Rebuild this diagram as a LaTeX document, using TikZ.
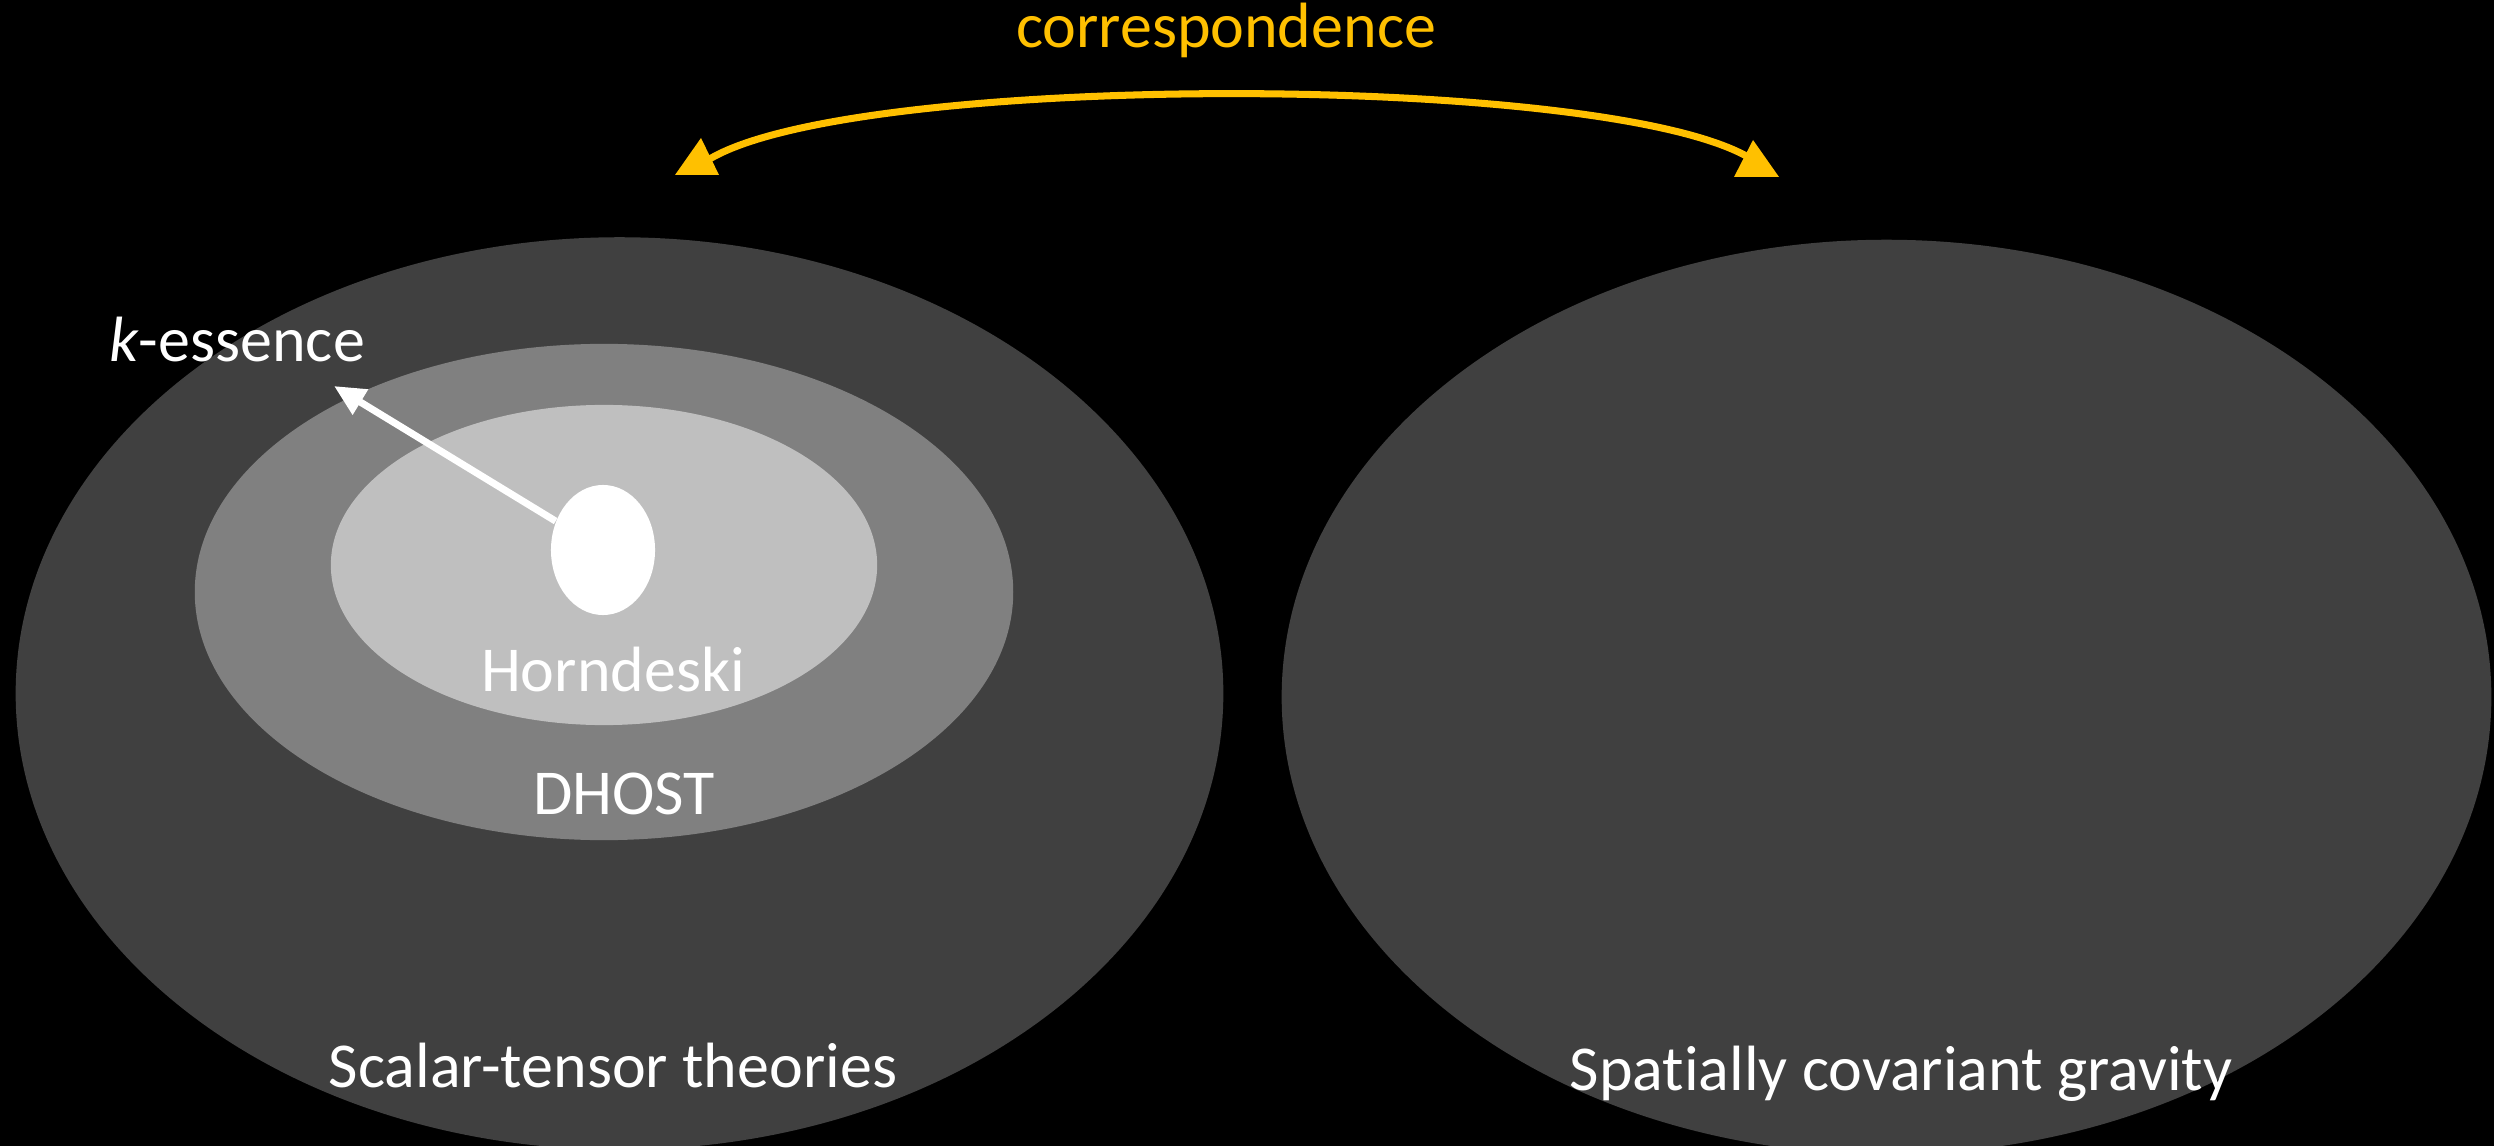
\documentclass[tikz,border=0pt]{standalone}
\usepackage{fontspec}
\setmainfont{Carlito}[Ligatures={NoCommon}]
\usetikzlibrary{shapes.geometric,arrows.meta}
\definecolor{darkg}{HTML}{404040}
\definecolor{midg}{HTML}{808080}
\definecolor{lightg}{HTML}{BFBFBF}
\definecolor{gold}{HTML}{FFC000}
\begin{document}
\begin{tikzpicture}[x=0.01cm,y=-0.01cm,
  region/.style={ellipse,inner sep=0pt,draw=none},
  lbl/.style={text=white,font=\fontsize{18.2}{21.8}\selectfont,inner sep=0pt},
  goldtri/.style={fill=gold}]
\fill[black] (0,0) rectangle (2494,1146);
\useasboundingbox (0,0) rectangle (2494,1146);
\node[region,fill=darkg,minimum width=12.07cm,minimum height=9.12cm] (st) at (619.5,693.5) {};
\node[region,fill=darkg,minimum width=12.09cm,minimum height=9.14cm] (scg) at (1886.5,697) {};
\node[region,fill=midg,minimum width=8.18cm,minimum height=4.96cm] (dhost) at (604,592) {};
\node[region,fill=lightg,minimum width=5.46cm,minimum height=3.20cm] (horn) at (604,565) {};
\node[region,fill=white,minimum width=1.04cm,minimum height=1.30cm] (dot) at (603,550) {};
% labels
\node[lbl] (tcorr) at (1226,30) {\color{gold}correspondence};
\node[lbl] (tk) at (237,340) {\textit{k}-essence};
\node[lbl] (th) at (613,670) {Horndeski};
\node[lbl] (td) at (624,794) {DHOST};
\node[lbl] (ts) at (613,1066) {Scalar-tensor theories};
\node[lbl] (tg) at (1901,1074) {Spatially covariant gravity};
% white arrow
\coordinate (ktip) at (334,386);
\draw[white,line width=2pt,-{Triangle[length=0.31cm,width=0.28cm]}] (dot) -- (ktip);
% correspondence arrow
\coordinate (la) at (708,160);
\coordinate (ra) at (1748,157);
\draw[gold,line width=2pt] (la) .. controls (850,72) and (1600,72) .. (ra);
\fill[goldtri] (701,138) -- (675,175) -- (719,175) -- cycle;
\fill[goldtri] (1753,140) -- (1734,177) -- (1779,177) -- cycle;
\end{tikzpicture}
\end{document}
